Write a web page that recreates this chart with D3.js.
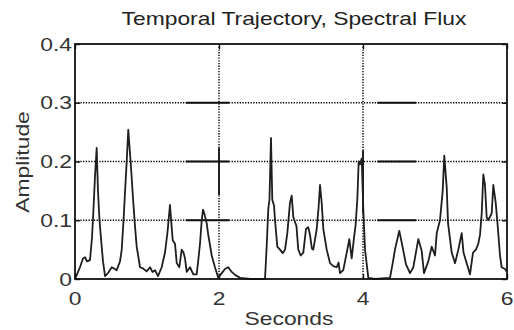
<!DOCTYPE html>
<html>
<head>
<meta charset="utf-8">
<script src="https://cdn.jsdelivr.net/npm/d3@7"></script>
<style>
  body { margin: 0; background: #fff; }
  svg { display: block; font-family: "Liberation Sans", Arial, sans-serif; }
</style>
</head>
<body>
<div id="chart"></div>
<script>
// spectral flux trajectory
const seconds = [0.000, 0.042, 0.069, 0.111, 0.139, 0.167, 0.208, 0.236, 0.257, 0.278, 0.301, 0.319, 0.340, 0.371, 0.389, 0.417, 0.458, 0.510, 0.542, 0.579, 0.625, 0.649, 0.674, 0.694, 0.718, 0.740, 0.757, 0.774, 0.810, 0.833, 0.857, 0.903, 0.944, 0.996, 1.042, 1.076, 1.111, 1.153, 1.204, 1.250, 1.285, 1.319, 1.357, 1.389, 1.413, 1.449, 1.482, 1.507, 1.528, 1.551, 1.597, 1.643, 1.690, 1.715, 1.736, 1.760, 1.778, 1.799, 1.829, 1.851, 1.899, 1.944, 1.990, 2.038, 2.083, 2.129, 2.176, 2.222, 2.292, 2.431, 2.639, 2.662, 2.685, 2.701, 2.722, 2.740, 2.764, 2.778, 2.810, 2.847, 2.885, 2.917, 2.949, 2.986, 3.010, 3.032, 3.076, 3.101, 3.135, 3.171, 3.208, 3.240, 3.264, 3.290, 3.310, 3.357, 3.382, 3.403, 3.426, 3.449, 3.496, 3.542, 3.588, 3.635, 3.660, 3.681, 3.726, 3.774, 3.810, 3.843, 3.875, 3.896, 3.921, 3.940, 3.958, 3.982, 4.004, 4.028, 4.074, 4.167, 4.375, 4.417, 4.444, 4.504, 4.549, 4.597, 4.653, 4.699, 4.768, 4.815, 4.847, 4.907, 4.954, 5.000, 5.024, 5.069, 5.107, 5.129, 5.163, 5.181, 5.232, 5.278, 5.324, 5.371, 5.396, 5.440, 5.486, 5.528, 5.569, 5.601, 5.625, 5.649, 5.671, 5.694, 5.718, 5.740, 5.788, 5.810, 5.843, 5.871, 5.903, 5.926, 5.972, 6.000];
const amplitude = [0.000, 0.012, 0.020, 0.035, 0.037, 0.030, 0.032, 0.070, 0.120, 0.175, 0.223, 0.150, 0.100, 0.055, 0.030, 0.005, 0.010, 0.020, 0.018, 0.015, 0.030, 0.050, 0.100, 0.146, 0.200, 0.254, 0.225, 0.197, 0.130, 0.090, 0.055, 0.020, 0.018, 0.013, 0.020, 0.012, 0.015, 0.005, 0.020, 0.045, 0.080, 0.126, 0.066, 0.060, 0.027, 0.020, 0.050, 0.045, 0.035, 0.012, 0.020, 0.008, 0.008, 0.035, 0.060, 0.100, 0.118, 0.110, 0.095, 0.075, 0.040, 0.020, 0.002, 0.010, 0.017, 0.020, 0.012, 0.007, 0.002, 0.000, 0.000, 0.055, 0.120, 0.135, 0.240, 0.135, 0.125, 0.100, 0.055, 0.050, 0.044, 0.050, 0.078, 0.130, 0.142, 0.105, 0.090, 0.050, 0.040, 0.045, 0.085, 0.088, 0.075, 0.052, 0.050, 0.085, 0.120, 0.160, 0.130, 0.085, 0.050, 0.027, 0.022, 0.020, 0.028, 0.010, 0.015, 0.045, 0.068, 0.035, 0.070, 0.090, 0.135, 0.200, 0.195, 0.205, 0.120, 0.050, 0.002, 0.000, 0.002, 0.030, 0.050, 0.082, 0.055, 0.025, 0.010, 0.020, 0.068, 0.048, 0.010, 0.030, 0.055, 0.040, 0.078, 0.100, 0.150, 0.210, 0.155, 0.095, 0.045, 0.027, 0.050, 0.078, 0.045, 0.027, 0.008, 0.045, 0.050, 0.060, 0.075, 0.112, 0.178, 0.160, 0.105, 0.100, 0.112, 0.160, 0.130, 0.090, 0.040, 0.020, 0.017, 0.012];

const xTicks = [0, 2, 4, 6];
const yTicks = [0, 0.1, 0.2, 0.3, 0.4];
const yTickLabels = ["0", "0.1", "0.2", "0.3", "0.4"];
const xDomain = [0, 6];
const yDomain = [0, 0.4];

// stretches where the printed grid lines come out solid
const solidH = [[1.54, 2.14], [4.2, 4.74]];
const solidV = [[2, 0.143, 0.223], [4, 0.112, 0.219]];

const W = 514, H = 330;
const margin = {top: 44, right: 7, bottom: 51, left: 75};
const width = W - margin.left - margin.right;
const height = H - margin.top - margin.bottom;
const stretch = 1.27;   // the printed lettering is wide

const svg = d3.select("#chart").append("svg")
    .attr("width", W).attr("height", H);
svg.append("rect").attr("width", W).attr("height", H).attr("fill", "#fff");

const g = svg.append("g")
    .attr("transform", `translate(${margin.left},${margin.top})`);

const x = d3.scaleLinear().domain(xDomain).range([0, width]);
const y = d3.scaleLinear().domain(yDomain).range([height, 0]);

// dotted grid
g.selectAll(".hgrid").data(yTicks.slice(1, -1)).join("line")
    .attr("x1", 0).attr("x2", width)
    .attr("y1", d => y(d)).attr("y2", d => y(d))
    .attr("stroke", "#000").attr("stroke-width", 1.4)
    .attr("stroke-dasharray", "1.3,1.4");
g.selectAll(".vgrid").data(xTicks.slice(1, -1)).join("line")
    .attr("x1", d => x(d)).attr("x2", d => x(d))
    .attr("y1", 0).attr("y2", height)
    .attr("stroke", "#000").attr("stroke-width", 1.4)
    .attr("stroke-dasharray", "1.3,1.4");

yTicks.slice(1, -1).forEach(v => {
  solidH.forEach(s => {
    g.append("line")
      .attr("x1", x(s[0])).attr("x2", x(s[1]))
      .attr("y1", y(v)).attr("y2", y(v))
      .attr("stroke", "#111").attr("stroke-width", 1.8);
  });
});
solidV.forEach(s => {
  g.append("line")
    .attr("x1", x(s[0])).attr("x2", x(s[0]))
    .attr("y1", y(s[2])).attr("y2", y(s[1]))
    .attr("stroke", "#111").attr("stroke-width", 1.8);
});

// axes, ticks drawn inward like the original
const tickLen = 5;
g.append("g").attr("transform", `translate(0,${height})`)
    .call(d3.axisBottom(x).tickValues(xTicks).tickSize(-tickLen).tickFormat(""))
    .call(a => a.select(".domain").remove());
g.append("g")
    .call(d3.axisTop(x).tickValues(xTicks).tickSize(-tickLen).tickFormat(""))
    .call(a => a.select(".domain").remove());
g.append("g")
    .call(d3.axisLeft(y).tickValues(yTicks).tickSize(-tickLen).tickFormat(""))
    .call(a => a.select(".domain").remove());
g.append("g").attr("transform", `translate(${width},0)`)
    .call(d3.axisRight(y).tickValues(yTicks).tickSize(-tickLen).tickFormat(""))
    .call(a => a.select(".domain").remove());
g.selectAll(".tick line").attr("stroke", "#111").attr("stroke-width", 1.4);

// the trace
const pts = seconds.map((t, i) => [t, amplitude[i]]);
g.append("path").datum(pts)
    .attr("fill", "none")
    .attr("stroke", "#1e1e1e")
    .attr("stroke-width", 1.8)
    .attr("stroke-linejoin", "round")
    .attr("d", d3.line().x(d => x(d[0])).y(d => y(d[1])));

// frame
g.append("rect").attr("width", width).attr("height", height)
    .attr("fill", "none").attr("stroke", "#111").attr("stroke-width", 1.8);

// tick labels
g.selectAll(".xl").data(xTicks).join("text")
    .attr("transform", d => `translate(${x(d)},${height + 26}) scale(${stretch},1)`)
    .attr("text-anchor", "middle")
    .attr("font-size", 18).attr("fill", "#333")
    .text(d => d);
g.selectAll(".yl").data(yTicks).join("text")
    .attr("transform", d => `translate(-3,${y(d) + 6.5}) scale(${stretch},1)`)
    .attr("text-anchor", "end")
    .attr("font-size", 18).attr("fill", "#333")
    .text((d, i) => yTickLabels[i]);

// titles
svg.append("text")
    .attr("transform", `translate(294,25) scale(${stretch},1)`)
    .attr("text-anchor", "middle").attr("font-size", 18).attr("fill", "#222")
    .text("Temporal Trajectory, Spectral Flux");
svg.append("text")
    .attr("transform", `translate(289,325) scale(${stretch},1)`)
    .attr("text-anchor", "middle").attr("font-size", 18).attr("fill", "#333")
    .text("Seconds");
svg.append("text")
    .attr("transform", `translate(29,162) rotate(-90) scale(${stretch},1)`)
    .attr("text-anchor", "middle").attr("font-size", 18).attr("fill", "#333")
    .text("Amplitude");
</script>
</body>
</html>
